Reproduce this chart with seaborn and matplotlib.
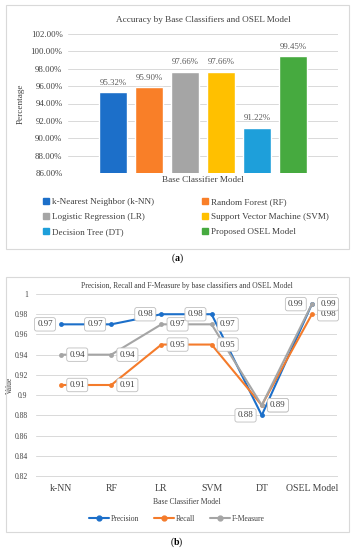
import matplotlib
matplotlib.use("Agg")
import matplotlib.pyplot as plt
import pandas as pd
import seaborn as sns
from matplotlib.patches import Rectangle
from matplotlib.lines import Line2D

# --- (a) accuracy per classifier ---
models = ["k-Nearest Neighbor (k-NN)", "Random Forest (RF)", "Logistic Regression (LR)",
          "Support Vector Machine (SVM)", "Decision Tree (DT)", "Proposed OSEL Model"]
accuracy = [95.32, 95.90, 97.66, 97.66, 91.22, 99.45]
bar_colors = ["#1C6FC9", "#F97F28", "#A5A5A5", "#FFC000", "#1E9FDA", "#46AA3F"]

# --- (b) precision / recall / f-measure ---
short_names = ["k-NN", "RF", "LR", "SVM", "DT", "OSEL Model"]
precision = [0.97, 0.97, 0.98, 0.98, 0.88, 0.99]
recall = [0.91, 0.91, 0.95, 0.95, 0.89, 0.98]
fmeasure = [0.94, 0.94, 0.97, 0.97, 0.89, 0.99]
metrics = ["Precision", "Recall", "F-Measure"]
line_colors = ["#1C6FC9", "#F47B2B", "#A5A5A5"]

sns.set_style("white")
plt.rcParams["font.family"] = ["Liberation Serif", "DejaVu Serif"]
plt.rcParams["mathtext.fontset"] = "custom"
plt.rcParams["mathtext.bf"] = "Liberation Serif:bold"
txt = "#404040"
grid = "#D9D9D9"

fig = plt.figure(figsize=(3.54, 5.5), dpi=100)

# panel frames
for y0, h in [(1 - 249 / 550, 244 / 550), (1 - 532 / 550, 255 / 550)]:
    fig.add_artist(Rectangle((6 / 354, y0), 343 / 354, h, transform=fig.transFigure,
                             fill=False, ec="#D9D9D9", lw=0.8))
fig.text(177 / 354, 1 - 258 / 550, r"($\mathbf{a}$)", ha="center", va="center", fontsize=7, color="black")
fig.text(177 / 354, 1 - 542 / 550, r"($\mathbf{b}$)", ha="center", va="center", fontsize=7, color="black")

# ---------- top: bar chart ----------
ax1 = fig.add_axes([68 / 354, 1 - 173 / 550, 270 / 354, 139 / 550])
df_a = pd.DataFrame({"model": models, "acc": accuracy})
sns.barplot(data=df_a, x="model", y="acc", hue="model", palette=bar_colors,
            width=0.78, legend=False, ax=ax1, saturation=1)
ax1.set_ylim(86, 102)
ax1.set_xlim(-1.25, 6.25)
ax1.set_yticks(range(86, 103, 2))
ax1.set_yticklabels([f"{v:.2f}%" for v in range(86, 103, 2)], fontsize=6.3, color=txt)
ax1.set_xticks([])
ax1.yaxis.grid(True, color=grid, lw=0.7)
ax1.set_axisbelow(True)
for s in ax1.spines.values():
    s.set_visible(False)
ax1.tick_params(axis="y", length=0, pad=4)
for i, v in enumerate(accuracy):
    ax1.text(i, v + 0.6, f"{v:.2f}%", ha="center", va="bottom", fontsize=6.3, color="#595959")
ax1.set_title("Accuracy by Base Classifiers and OSEL Model", fontsize=6.6, color=txt, pad=9)
ax1.set_ylabel("Percentage", fontsize=6.6, color=txt, labelpad=4)
ax1.set_xlabel("Base Classifier Model", fontsize=6.6, color=txt, labelpad=2)

handles = [Rectangle((0, 0), 1, 1, color=c) for c in bar_colors]
order = [0, 2, 4, 1, 3, 5]
fig.legend([handles[i] for i in order], [models[i] for i in order], ncol=2,
           loc="upper left", bbox_to_anchor=(35 / 354, 1 - 190 / 550), frameon=False,
           fontsize=6.6, handlelength=0.6, handleheight=0.6, handletextpad=0.4,
           columnspacing=5.2, labelspacing=0.75, labelcolor=txt)

# ---------- bottom: line chart ----------
ax2 = fig.add_axes([36 / 354, 1 - 476 / 550, 301 / 354, 182 / 550])
df_b = pd.DataFrame({
    "pos": list(range(6)) * 3,
    "value": precision + recall + fmeasure,
    "metric": [m for m in metrics for _ in range(6)],
})
sns.lineplot(data=df_b, x="pos", y="value", hue="metric", palette=line_colors,
             marker="o", markersize=3.5, markeredgewidth=0, lw=1.5, sort=False,
             legend=False, ax=ax2, zorder=3)
ax2.set_ylim(0.82, 1.0)
ax2.set_xlim(-0.5, 5.5)
yt = [0.82 + 0.02 * k for k in range(10)]
ax2.set_yticks(yt)
ax2.set_yticklabels(["1" if abs(v - 1) < 1e-9 else f"{v:.2f}".rstrip("0") for v in yt],
                    fontsize=5.5, color=txt)
ax2.set_xticks(range(6))
ax2.set_xticklabels(short_names, fontsize=7, color=txt)
ax2.set_xticks([k + 0.5 for k in range(-1, 6)], minor=True)
ax2.tick_params(axis="x", which="major", length=0, pad=6)
ax2.tick_params(axis="x", which="minor", length=3, color=grid, width=0.7)
ax2.tick_params(axis="y", length=0, pad=6)
ax2.yaxis.grid(True, color=grid, lw=0.7)
ax2.set_axisbelow(True)
for k, s in ax2.spines.items():
    s.set_visible(k == "bottom")
ax2.spines["bottom"].set_color(grid)
ax2.spines["bottom"].set_linewidth(0.7)
ax2.set_title("Precision, Recall and F-Measure by base classifiers and OSEL Model",
              fontsize=5.5, color=txt, pad=4)
ax2.set_ylabel("Value", fontsize=5.5, color=txt, labelpad=0)
ax2.set_xlabel("Base Classifier Model", fontsize=5.5, color=txt, labelpad=3)

box = dict(boxstyle="round,pad=0.3,rounding_size=0.25", fc="white", ec="#BFBFBF", lw=0.6)
for series, side in [(recall, 1), (fmeasure, 1), (precision, -1)]:
    for i, v in enumerate(series):
        ax2.annotate(f"{v:.2f}", (i, v), xytext=(6 * side, 0), textcoords="offset points",
                     ha="left" if side > 0 else "right", va="center", fontsize=6.5,
                     color=txt, bbox=box, zorder=4)

lh = [Line2D([], [], color=c, marker="o", markersize=3.5, lw=1.5) for c in line_colors]
fig.legend(lh, metrics, ncol=3, loc="center", bbox_to_anchor=(177 / 354, 1 - 519 / 550),
           frameon=False, fontsize=5.5, handlelength=2.6, handletextpad=0.2,
           columnspacing=2.0, labelcolor=txt)

fig.savefig("out.png", dpi=100)
